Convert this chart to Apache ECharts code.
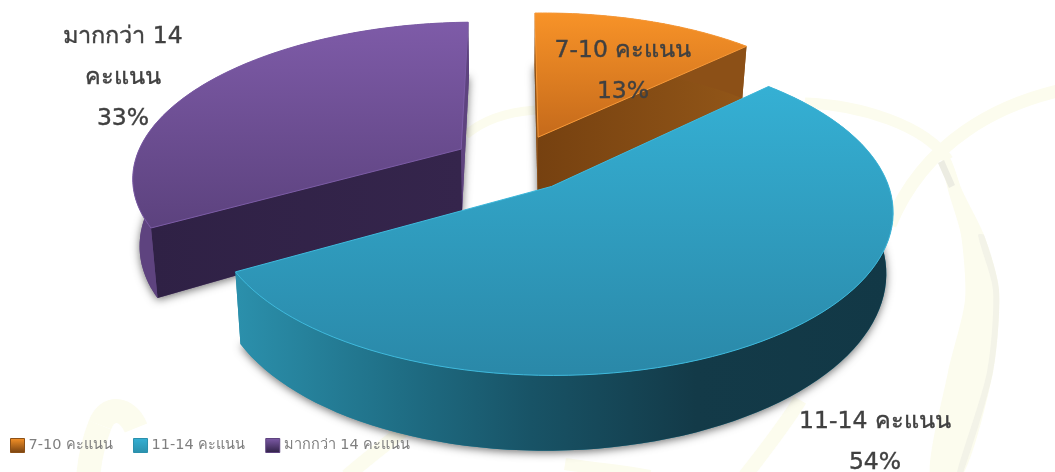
<!DOCTYPE html>
<html>
<head>
<meta charset="utf-8">
<style>html,body{margin:0;padding:0;background:#fff}#c{width:1055px;height:472px}</style>
<script src="https://cdn.jsdelivr.net/npm/echarts@6/dist/echarts.min.js"></script>
</head>
<body>
<div id="c"></div>
<script>
// ---- chart data ----
const categories = ['7-10 คะแนน', '11-14 คะแนน', 'มากกว่า 14 คะแนน'];
const shares = [13, 54, 33];
const labelLines = ['7-10 คะแนน\n13%', '11-14 คะแนน\n54%', 'มากกว่า 14\nคะแนน\n33%'];

// ---- styling ----
const labelAnchor = [[623, 71], [875, 442], [123, 78]];
const topColors = [['#F89328', '#C56A1B'], ['#35B0D4', '#2A88A8'], ['#7E5BA8', '#5C427E']];
const rimColors = ['#F99A38', '#3FB9DC', '#7C5CA6'];
const outerStops = [
  [[0, '#8C5017'], [1, '#8C5017']],
  [[0, '#2B90AC'], [0.25, '#1F6E85'], [0.45, '#185366'], [0.7, '#133A48'], [1, '#123846']],
  [[0, '#5E437F'], [1, '#5E437F']]
];
const radialStops = [
  [[0, '#764110'], [1, '#925618']],
  [[0, '#2B90AC'], [1, '#2B90AC']],
  [[0, '#2F2145'], [1, '#35254C']]
];

// projection of the tilted pie plane
const view = { cx: 514, cy: 163, rx: 328, ry: 151, persp: 0.157, depth: 62, depthRoll: 0.06, roll: 3, lowScale: 0.982, explode: 0.19, startDeg: 90 };
function project(X, Y, down) {
  const s = 1 / (1 + view.persp * Y);
  return [
    view.cx + view.rx * X * s * (down ? view.lowScale : 1),
    view.cy - view.ry * Y * s - view.roll * X + (down ? view.depth * s * (1 - view.depthRoll * X) : 0)
  ];
}
function lin(stops, vertical) {
  return new echarts.graphic.LinearGradient(0, 0, vertical ? 0 : 1, vertical ? 1 : 0,
    stops.map(s => ({ offset: s[0], color: s[1] })));
}

const total = shares.reduce((a, b) => a + b, 0);
let running = 0;
const cumulative = shares.map(v => { const c = running; running += v; return c; });

function renderSlice(params, api) {
  const i = api.value(2);
  const toRad = Math.PI / 180;
  const a0 = (view.startDeg - api.value(1) / total * 360) * toRad;
  const a1 = a0 - api.value(0) / total * 360 * toRad;
  const mid = (a0 + a1) / 2;
  const ox = view.explode * Math.cos(mid), oy = view.explode * Math.sin(mid);
  const top = [], low = [];
  const n = 90;
  for (let k = 0; k <= n; k++) {
    const a = a0 + (a1 - a0) * k / n;
    const X = ox + Math.cos(a), Y = oy + Math.sin(a);
    top.push(project(X, Y, false));
    low.push(project(X, Y, true));
  }
  const apexT = project(ox, oy, false), apexB = project(ox, oy, true);
  const z = Math.round(apexT[1]);
  // a cut face seen nearly edge-on takes the lighter rim colour
  const radial = (pT, pB) => ({
    type: 'polygon', z2: z + 1, silent: true,
    shape: { points: [apexT, pT, pB, apexB] },
    style: { fill: lin(Math.abs(pT[0] - apexT[0]) < 30 ? outerStops[i] : radialStops[i]) }
  });
  return {
    type: 'group',
    children: [
      // the soft shadow is cast by the base of the slice only
      { type: 'polygon', z2: z, silent: true,
        shape: { points: [apexB].concat(low) },
        style: { fill: outerStops[i][0][1], shadowBlur: 8, shadowColor: 'rgba(0,0,0,0.55)', shadowOffsetY: 2 } },
      radial(top[0], low[0]),
      { type: 'polygon', z2: z + 2, silent: true,
        shape: { points: top.concat(low.slice().reverse()) },
        style: { fill: lin(outerStops[i]) } },
      radial(top[n], low[n]),
      { type: 'polygon', z2: z + 3, silent: true,
        shape: { points: [apexT].concat(top) },
        style: { fill: lin(topColors[i].map((c, j) => [j, c]), true), stroke: rimColors[i], lineWidth: 1 } },
      { type: 'text', z2: 1000, silent: true,
        style: { x: labelAnchor[i][0], y: labelAnchor[i][1], text: labelLines[i], align: 'center', verticalAlign: 'middle',
          fill: '#404040', stroke: '#404040', lineWidth: 0.4, font: '23.5px "DejaVu Sans", "Noto Sans", sans-serif', lineHeight: 41 } }
    ]
  };
}

// pale watermark ribbons in the page background: [x1,y1, cx1,cy1, cx2,cy2, x2,y2, width, colour]
const cream = '#FCFCEE', shade = '#F3F3E8';
const ribbons = [
  [1062, 90, 1000, 104, 925, 140, 890, 225, 13, cream],
  [800, 400, 785, 425, 765, 450, 745, 476, 14, cream],
  [805, 103, 860, 105, 925, 125, 948, 160, 11, cream],
  [136, 428, 128, 408, 108, 404, 100, 425, 24, cream],
  [100, 425, 94, 440, 90, 455, 88, 478, 24, cream],
  [347, 476, 365, 460, 385, 445, 410, 425, 14, cream],
  [565, 464, 590, 468, 620, 470, 650, 476, 12, cream],
  [466, 135, 485, 118, 510, 112, 535, 110, 9, cream]
];
// the one ribbon that widens as it falls, as an outline
const wideRibbon = [[942, 160], [950, 158], [962, 190], [984, 235], [999, 290], [993, 372], [962, 476], [930, 476], [948, 372], [965, 300], [961, 235], [948, 190]];
const wideRibbonShade = [[984, 235], [999, 290], [993, 372], [962, 476], [956, 476], [987, 372], [993, 290], [978, 235]];
const crossingShade = [[938, 163], [944, 160], [955, 185], [949, 188]];

const chart = echarts.init(document.getElementById('c'), null, { renderer: 'canvas' });
chart.setOption({
  animation: false,
  backgroundColor: '#fff',
  graphic: ribbons.map((r, k) => ({
    type: 'bezierCurve', silent: true, z: 0, z2: k,
    shape: { x1: r[0], y1: r[1], cpx1: r[2], cpy1: r[3], cpx2: r[4], cpy2: r[5], x2: r[6], y2: r[7] },
    style: { fill: null, stroke: r[9], lineWidth: r[8], lineCap: 'butt' }
  })).concat([
    { type: 'polygon', silent: true, z: 0, z2: 20, shape: { points: wideRibbon, smooth: 0.25 }, style: { fill: cream } },
    { type: 'polygon', silent: true, z: 0, z2: 21, shape: { points: wideRibbonShade, smooth: 0.25 }, style: { fill: shade } },
    { type: 'polygon', silent: true, z: 0, z2: 22, shape: { points: crossingShade }, style: { fill: '#ECECE2' } }
  ]),
  legend: {
    left: 10, top: 438, itemWidth: 14, itemHeight: 14, itemGap: 20, padding: 0,
    textStyle: { color: '#7F7F7F', fontSize: 14.5, fontFamily: '"DejaVu Sans", "Noto Sans", sans-serif', padding: [0, 0, 0, -1] },
    data: categories.map((name, i) => ({
      name, icon: 'rect',
      itemStyle: { color: lin([[0, topColors[i][0]], [1, radialStops[i][0][1]]], true), borderColor: outerStops[i][0][1], borderWidth: 1 }
    }))
  },
  series: categories.map((name, i) => ({
    type: 'custom', name, coordinateSystem: 'none', z: 2,
    renderItem: renderSlice,
    itemStyle: { color: topColors[i][0] },
    data: [[shares[i], cumulative[i], i]]
  }))
});
</script>
</body>
</html>
